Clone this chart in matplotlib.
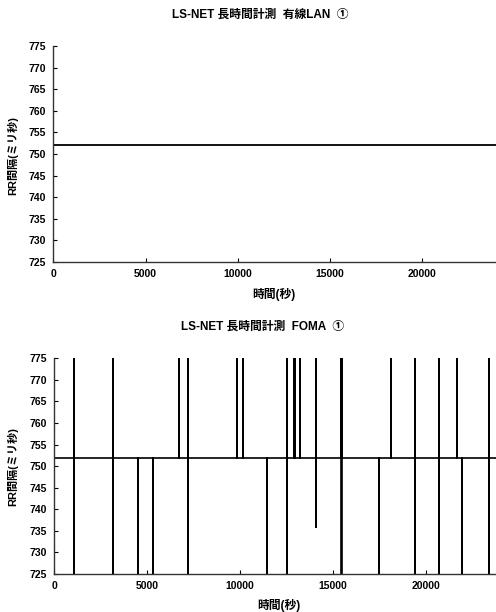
import numpy as np
import matplotlib
matplotlib.use('Agg')
import matplotlib.pyplot as plt

plt.rcParams['font.family'] = ['Liberation Sans', 'Noto Sans CJK JP', 'DejaVu Sans']
plt.rcParams['font.weight'] = 'bold'

# Wired LAN: constant RR interval over the whole run
lan_t  = [0, 25000]
lan_rr = [752, 752]

# FOMA: constant RR interval with spikes clipped at the axis limits
# (one line per spike, same count of entries in both lists)
foma_t = [0,
          1060, 1060, 1060, 1060,
          3170, 3170, 3170, 3170,
          4520, 4520, 4520,
          5330, 5330, 5330,
          6730, 6730, 6730,
          7170, 7170, 7170, 7190, 7190, 7190,
          9830, 9830, 9830,
          10160, 10160, 10160,
          11455, 11455, 11455,
          12550, 12550, 12550, 12550,
          12890, 12890, 12890,
          12975, 12975, 12975,
          13250, 13250, 13250,
          14060, 14060, 14060, 14060,
          15450, 15450, 15450, 15470, 15470, 15470,
          17455, 17455, 17455,
          18110, 18110, 18110,
          19435, 19435, 19435, 19435,
          20710, 20710, 20710, 20710,
          21650, 21650, 21650,
          21960, 21960, 21960,
          23410, 23410, 23410, 23420, 23420, 23420,
          25000]
foma_rr = [752,
           752, 900, 600, 752,
           752, 900, 600, 752,
           752, 600, 752,
           752, 600, 752,
           752, 900, 752,
           752, 900, 600, 600, 900, 752,
           752, 900, 752,
           752, 900, 752,
           752, 600, 752,
           752, 900, 600, 752,
           752, 900, 752,
           752, 900, 752,
           752, 900, 752,
           752, 900, 736, 752,
           752, 900, 600, 600, 900, 752,
           752, 600, 752,
           752, 900, 752,
           752, 900, 600, 752,
           752, 900, 600, 752,
           752, 900, 752,
           752, 600, 752,
           752, 900, 600, 600, 900, 752,
           752]

xTicks = [0, 5000, 10000, 15000, 20000]
yTicks = [725, 730, 735, 740, 745, 750, 755, 760, 765, 770, 775]

W, H = 496, 612
fig = plt.figure(figsize=(W / 100, H / 100), dpi=100)


def style_axes(ax):
    ax.set_xlim(0, 25000)
    ax.set_ylim(725, 775)
    ax.set_xticks(xTicks)
    ax.set_yticks(yTicks)
    ax.tick_params(direction='in', length=3, width=0.8, labelsize=7.5, pad=5)
    for lab in ax.get_xticklabels() + ax.get_yticklabels():
        lab.set_fontweight('bold')
    ax.spines['top'].set_visible(False)
    ax.spines['right'].set_visible(False)
    for s in ['left', 'bottom']:
        ax.spines[s].set_linewidth(1.0)
        ax.spines[s].set_color('#333333')


# top chart (axes extends past the right edge, as in the scan)
ax1 = fig.add_axes([53.3 / W, 1 - 262 / H, 461 / W, 216 / H])
ax1.plot(lan_t, lan_rr, color='black', lw=1.3)
style_axes(ax1)

ax2 = fig.add_axes([54.3 / W, 1 - 574 / H, 464.5 / W, 215.7 / H])
ax2.plot(foma_t, foma_rr, color='black', lw=1.2)
style_axes(ax2)

fig.text(260 / W, 1 - 15 / H, 'LS-NET 長時間計測  有線LAN  ①', ha='center', va='center', fontsize=8.5)
fig.text(263 / W, 1 - 327 / H, 'LS-NET 長時間計測  FOMA  ①', ha='center', va='center', fontsize=8.5)
fig.text(274 / W, 1 - 294 / H, '時間(秒)', ha='center', va='center', fontsize=8.5)
fig.text(279 / W, 1 - 605 / H, '時間(秒)', ha='center', va='center', fontsize=8.5)
fig.text(13 / W, 1 - 156 / H, 'RR間隔(ミリ秒)', ha='center', va='center', fontsize=8, rotation=90)
fig.text(13 / W, 1 - 467 / H, 'RR間隔(ミリ秒)', ha='center', va='center', fontsize=8, rotation=90)

fig.savefig('out.png', dpi=100)
